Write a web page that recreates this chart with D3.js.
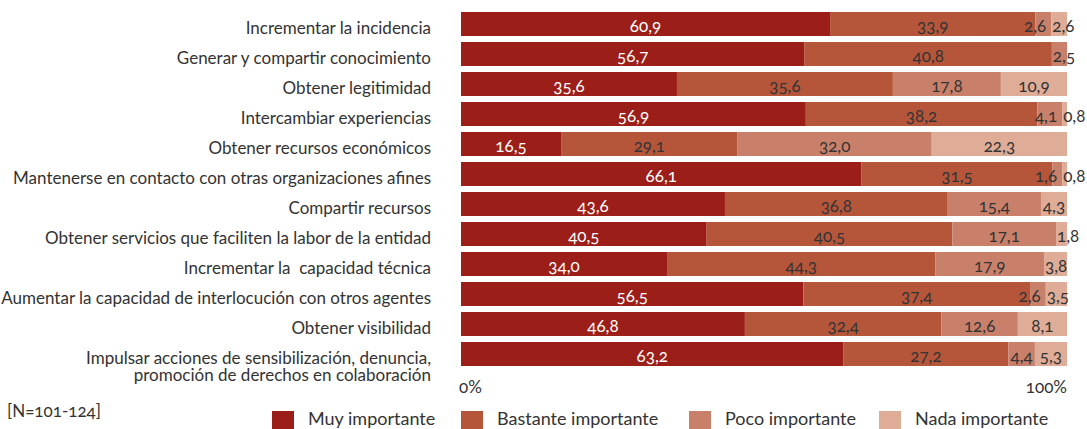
<!DOCTYPE html>
<html>
<head>
<meta charset="utf-8">
<script src="https://cdn.jsdelivr.net/npm/d3@7"></script>
<style>
  html, body { margin: 0; padding: 0; background: #fff; }
  svg { display: block; font-family: Lato, "Noto Sans", sans-serif; font-variant-numeric: oldstyle-nums; }
  text { white-space: pre; }
</style>
</head>
<body>
<svg id="chart" width="1087" height="429"></svg>
<script>
// Categories (top to bottom); the last one wraps onto two lines
const categories = [
  ["Incrementar la incidencia"],
  ["Generar y compartir conocimiento"],
  ["Obtener legitimidad"],
  ["Intercambiar experiencias"],
  ["Obtener recursos económicos"],
  ["Mantenerse en contacto con otras organizaciones afines"],
  ["Compartir recursos"],
  ["Obtener servicios que faciliten la labor de la entidad"],
  ["Incrementar la  capacidad técnica"],
  ["Aumentar la capacidad de interlocución con otros agentes"],
  ["Obtener visibilidad"],
  ["Impulsar acciones de sensibilización, denuncia,", "promoción de derechos en colaboración"]
];

// Percentages per answer level, in category order
const muyImportante      = [60.9, 56.7, 35.6, 56.9, 16.5, 66.1, 43.6, 40.5, 34.0, 56.5, 46.8, 63.2];
const bastanteImportante = [33.9, 40.8, 35.6, 38.2, 29.1, 31.5, 36.8, 40.5, 44.3, 37.4, 32.4, 27.2];
const pocoImportante     = [ 2.6,  2.5, 17.8,  4.1, 32.0,  1.6, 15.4, 17.1, 17.9,  2.6, 12.6,  4.4];
const nadaImportante     = [ 2.6,  0.0, 10.9,  0.8, 22.3,  0.8,  4.3,  1.8,  3.8,  3.5,  8.1,  5.3];

const seriesNames = ["Muy importante", "Bastante importante", "Poco importante", "Nada importante"];
const seriesColors = ["#9c1e18", "#b5563b", "#c9806a", "#deac97"];
const axisLabels = ["0%", "100%"];
const sampleNote = "[N=101-124]";

const svg = d3.select("#chart");
const textColor = "#333333";

const rows = categories.map((c, i) => ({
  key: i,
  [seriesNames[0]]: muyImportante[i],
  [seriesNames[1]]: bastanteImportante[i],
  [seriesNames[2]]: pocoImportante[i],
  [seriesNames[3]]: nadaImportante[i]
}));

// Each row is scaled to fill the full 0–100% width
const stack = d3.stack().keys(seriesNames).offset(d3.stackOffsetExpand);
const stacked = stack(rows);

const x = d3.scaleLinear().domain([0, 1]).range([461, 1067]);
const y = d3.scaleBand().domain(d3.range(categories.length)).range([9, 369]).paddingInner(0.2).paddingOuter(0.1);
const bandH = y.bandwidth();
const rowTop = i => y(i);

const color = d3.scaleOrdinal().domain(seriesNames).range(seriesColors);

// Stacked bar segments
svg.append("g").selectAll("g")
  .data(stacked)
  .join("g")
  .attr("fill", d => color(d.key))
  .selectAll("rect")
  .data(d => d)
  .join("rect")
  .attr("x", d => x(d[0]))
  .attr("y", (d, i) => rowTop(i))
  .attr("width", d => Math.max(0, x(d[1]) - x(d[0])))
  .attr("height", bandH);

// Category labels, right-aligned next to the bars
const catG = svg.append("g")
  .attr("font-size", 17)
  .attr("fill", textColor)
  .attr("text-anchor", "end");
categories.forEach((lines, i) => {
  const t = catG.append("text").attr("x", 431).attr("y", rowTop(i) + 22);
  lines.forEach((ln, k) => {
    t.append("tspan").attr("x", 431).attr("dy", k === 0 ? 0 : 17).text(ln);
  });
});

// Value labels inside each segment; small trailing segments get nudged apart
const fmt = v => v.toFixed(1).replace(".", ",");
const labelG = svg.append("g").attr("font-size", 17);
const gap = 6;
rows.forEach((row, i) => {
  const segs = [];
  stacked.forEach((s, k) => {
    const v = row[s.key];
    if (!v) return;
    const x0 = x(s[i][0]), x1 = x(s[i][1]);
    const t = labelG.append("text")
      .attr("y", rowTop(i) + 20)
      .attr("fill", k === 0 ? "#ffffff" : textColor)
      .text(fmt(v));
    const w = t.node().getComputedTextLength();
    segs.push({ t, x0, x1, w, left: (x0 + x1) / 2 - w / 2 });
  });
  const last = segs[segs.length - 1];
  if (last.w + 2 > last.x1 - last.x0) last.left = last.x0 + 1;
  for (let k = segs.length - 2; k >= 0; k--) {
    const maxLeft = segs[k + 1].left - gap - segs[k].w;
    if (segs[k].left > maxLeft) segs[k].left = maxLeft;
  }
  segs.forEach(s => s.t.attr("x", s.left));
});

// Axis end labels
const axisG = svg.append("g").attr("font-size", 17).attr("fill", textColor);
axisG.append("text").attr("x", x(0) - 2).attr("y", 393).text(axisLabels[0]);
axisG.append("text").attr("x", x(1)).attr("y", 393).attr("text-anchor", "end").text(axisLabels[1]);

// Sample size note
svg.append("text").attr("x", 7).attr("y", 417).attr("font-size", 17).attr("fill", textColor).text(sampleNote);

// Legend
const legendX = d3.scaleOrdinal().domain(seriesNames).range([272, 461, 689, 879]);
const legend = svg.append("g").selectAll("g")
  .data(seriesNames)
  .join("g")
  .attr("transform", d => `translate(${legendX(d)},411)`);
legend.append("rect").attr("width", 22).attr("height", 18).attr("fill", d => color(d));
legend.append("text").attr("x", 36).attr("y", 14).attr("font-size", 18).attr("fill", textColor).text(d => d);
</script>
</body>
</html>
